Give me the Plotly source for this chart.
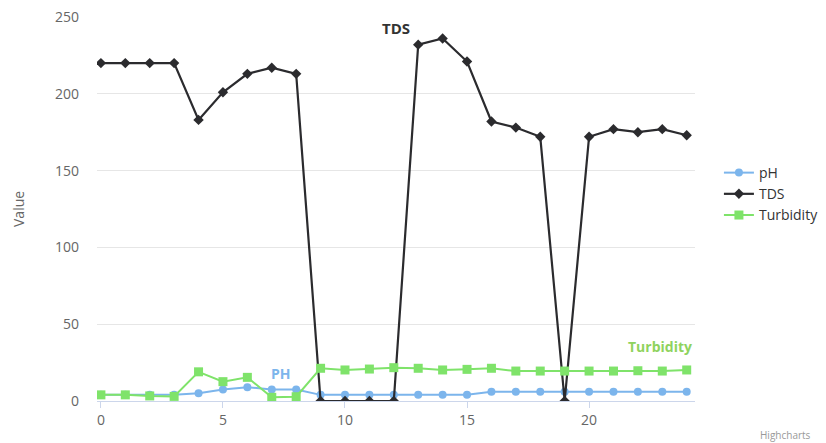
import plotly.graph_objects as go

x_vals = list(range(25))
ph = [4, 4, 4, 4, 5, 7.5, 9, 7.5, 7.5, 4, 4, 4, 4, 4, 4, 4, 6, 6, 6, 6, 6, 6, 6, 6, 6]
tds = [220, 220, 220, 220, 183, 201, 213, 217, 213, 0, 0, 0, 0, 232, 236, 221, 182, 178, 172, 0, 172, 177, 175, 177, 173]
turbidity = [4, 4, 3.3, 3, 19, 12.6, 15.4, 2.4, 2.8, 21.3, 20.2, 20.8, 21.7, 21.3, 20.2, 20.6, 21.3, 19.5, 19.5, 19.5, 19.5, 19.5, 19.7, 19.5, 20.2]

FONT = "Open Sans, Lato, sans-serif"

fig = go.Figure()
fig.add_trace(go.Scatter(x=x_vals, y=ph, name="pH", mode="lines+markers",
                         line=dict(color="#7cb5ec", width=2),
                         marker=dict(symbol="circle", size=8, color="#7cb5ec")))
fig.add_trace(go.Scatter(x=x_vals, y=tds, name="TDS", mode="lines+markers",
                         line=dict(color="#2b2b2e", width=2.2),
                         marker=dict(symbol="diamond", size=8, color="#2b2b2e")))
fig.add_trace(go.Scatter(x=x_vals, y=turbidity, name="Turbidity", mode="lines+markers",
                         line=dict(color="#7fe36a", width=2),
                         marker=dict(symbol="square", size=9, color="#7fe36a")))

fig.add_annotation(x=12.09, y=242.8, text="<b>TDS</b>", showarrow=False,
                   font=dict(family=FONT, size=15, color="#333333"))
fig.add_annotation(x=7.38, y=18.2, text="<b>PH</b>", showarrow=False,
                   font=dict(family=FONT, size=14, color="#7cb5ec"))
fig.add_annotation(x=22.9, y=35.2, text="<b>Turbidity</b>", showarrow=False,
                   font=dict(family=FONT, size=14, color="#8fd35e"))

fig.add_annotation(x=1, y=0, xref="paper", yref="paper", xanchor="left", yanchor="middle",
                   xshift=63, yshift=-34,
                   text="Highcharts", showarrow=False,
                   font=dict(family=FONT, size=10, color="#999999"))

fig.add_annotation(x=0, y=0.5, xref="paper", yref="paper", xanchor="center", yanchor="middle",
                   xshift=-79, textangle=-90,
                   text="Value", showarrow=False,
                   font=dict(family=FONT, size=14, color="#666666"))

fig.update_layout(
    width=818, height=435,
    margin=dict(l=89, r=131, t=9, b=42, autoexpand=False),
    paper_bgcolor="white", plot_bgcolor="white",
    font=dict(family=FONT, size=14, color="#666666"),
    showlegend=True,
    legend=dict(x=1.04, y=0.539, xanchor="left", yanchor="middle",
                font=dict(family=FONT, size=14, color="#333333"),
                tracegroupgap=0, itemwidth=30),
)
fig.update_xaxes(range=[-0.16, 24.34], tickvals=[0, 5, 10, 15, 20],
                 showgrid=False, zeroline=False, showline=True, automargin=False,
                 linecolor="#ccd6eb", ticks="outside", ticklen=6, tickcolor="#ccd6eb",
                 ticklabeloverflow="allow",
                 tickfont=dict(family=FONT, size=14, color="#666666"))
fig.update_yaxes(range=[0, 250], tickvals=[0, 50, 100, 150, 200, 250],
                 showgrid=True, gridcolor="#e6e6e6", zeroline=False, automargin=False,
                 ticklabeloverflow="allow",
                 tickfont=dict(family=FONT, size=14, color="#666666"), ticks="", ticklabelstandoff=17)

fig.write_html("out.html")
